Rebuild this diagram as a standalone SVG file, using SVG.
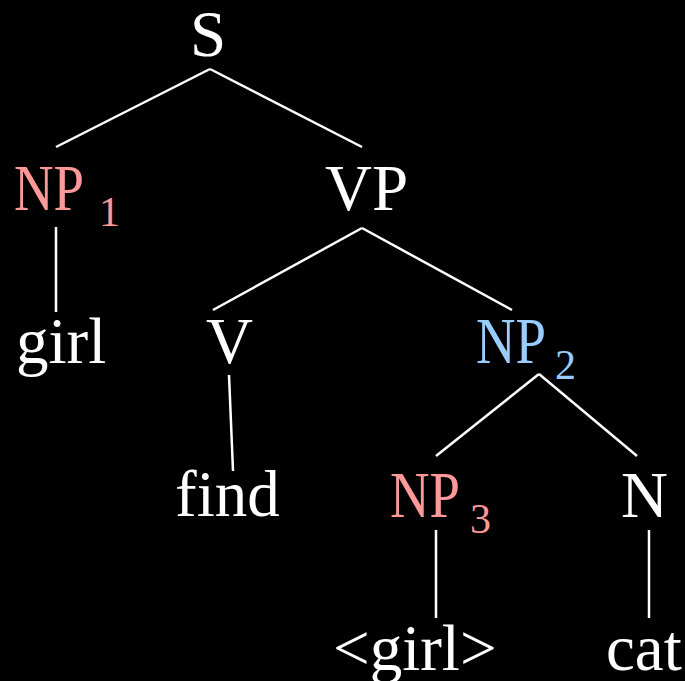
<svg xmlns="http://www.w3.org/2000/svg" width="685" height="681" viewBox="0 0 685 681">
  <style>
    .lbl { font-family: "Liberation Serif", "Times New Roman", serif; font-size: 65px; fill: #ffffff; }
    .sub { font-size: 42px; }
    .red { fill: #ff9999; }
    .blue { fill: #99ccff; }
    .edge { stroke: #ffffff; stroke-width: 2.5; fill: none; stroke-linecap: butt; }
  </style>
  <rect width="685" height="681" fill="#000000"/>

  <g id="connectors">
    <line class="edge" x1="210" y1="69" x2="56" y2="147"/>
    <line class="edge" x1="210" y1="69" x2="362" y2="147"/>
    <line class="edge" x1="56" y1="227" x2="56" y2="312"/>
    <line class="edge" x1="362" y1="228" x2="213" y2="310"/>
    <line class="edge" x1="362" y1="228" x2="512" y2="310"/>
    <line class="edge" x1="229" y1="375" x2="233" y2="471"/>
    <line class="edge" x1="539" y1="374" x2="436" y2="456"/>
    <line class="edge" x1="539" y1="374" x2="637" y2="456"/>
    <line class="edge" x1="436" y1="530" x2="436" y2="618"/>
    <line class="edge" x1="649" y1="530" x2="649" y2="618"/>
  </g>

  <g id="node-S"><text class="lbl" x="208" y="56" text-anchor="middle">S</text></g>
  <g id="node-NP1">
    <text class="lbl red" x="14" y="210" textLength="70" lengthAdjust="spacingAndGlyphs">NP</text>
    <text class="lbl sub red" x="99" y="226">1</text>
  </g>
  <g id="node-VP"><text class="lbl" x="325" y="210">VP</text></g>
  <g id="node-girl"><text class="lbl" x="16" y="363">girl</text></g>
  <g id="node-V"><text class="lbl" x="206" y="363">V</text></g>
  <g id="node-NP2">
    <text class="lbl blue" x="476" y="363" textLength="70" lengthAdjust="spacingAndGlyphs">NP</text>
    <text class="lbl sub blue" x="555" y="379">2</text>
  </g>
  <g id="node-find"><text class="lbl" x="175" y="516">find</text></g>
  <g id="node-NP3">
    <text class="lbl red" x="390" y="517" textLength="70" lengthAdjust="spacingAndGlyphs">NP</text>
    <text class="lbl sub red" x="470" y="533">3</text>
  </g>
  <g id="node-N"><text class="lbl" x="621" y="517">N</text></g>
  <g id="node-girl-trace"><text class="lbl" x="333" y="670">&lt;girl&gt;</text></g>
  <g id="node-cat"><text class="lbl" x="606" y="670">cat</text></g>
</svg>
